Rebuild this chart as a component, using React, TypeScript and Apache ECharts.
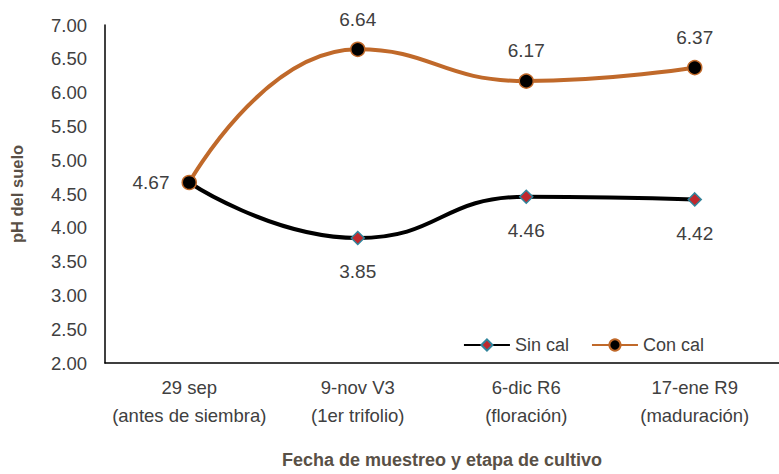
import React, { useEffect, useRef } from "react";
import * as echarts from "echarts";

const categories = [
  "29 sep\n(antes de siembra)",
  "9-nov V3\n(1er trifolio)",
  "6-dic R6\n(floración)",
  "17-ene R9\n(maduración)",
];
const sinCal = [4.67, 3.85, 4.46, 4.42];
const conCal = [4.67, 6.64, 6.17, 6.37];

const FONT = "'Liberation Sans', Arial, sans-serif";
const TEXT = "#404040";

export default function App() {
  const ref = useRef<HTMLDivElement>(null);
  useEffect(() => {
    if (!ref.current) return;
    const chart = echarts.init(ref.current, undefined, { renderer: "svg" });
    chart.setOption({
      animation: false,
      textStyle: { fontFamily: FONT },
      grid: { left: 105, right: -10, top: 25, bottom: 102, containLabel: false },
      legend: {
        right: 70,
        top: 331,
        itemWidth: 46,
        itemHeight: 14,
        itemGap: 22,
        textStyle: { fontFamily: FONT, fontSize: 18, color: TEXT },
        data: ["Sin cal", "Con cal"],
      },
      xAxis: {
        type: "category",
        data: categories,
        boundaryGap: true,
        axisLine: { lineStyle: { color: "#000", width: 1.5 } },
        axisTick: { alignWithLabel: true, length: 6, lineStyle: { color: "#000", width: 1.5 } },
        axisLabel: {
          interval: 0,
          fontFamily: FONT,
          fontSize: 18.5,
          color: TEXT,
          lineHeight: 28,
          margin: 10,
        },
        name: "Fecha de muestreo y etapa de cultivo",
        nameLocation: "middle",
        nameGap: 88,
        nameTextStyle: { fontFamily: FONT, fontSize: 18, fontWeight: "bold", color: "#595046" },
      },
      yAxis: {
        type: "value",
        min: 2,
        max: 7,
        interval: 0.5,
        splitLine: { show: false },
        axisLine: { show: true, lineStyle: { color: "#000", width: 1.5 } },
        axisTick: { show: false },
        axisLabel: {
          fontFamily: FONT,
          fontSize: 18.5,
          color: TEXT,
          margin: 18,
          formatter: (v: number) => v.toFixed(2),
        },
        name: "pH del suelo",
        nameLocation: "middle",
        nameGap: 80,
        nameTextStyle: { fontFamily: FONT, fontSize: 16.5, fontWeight: "bold", color: "#595046" },
      },
      series: [
        {
          name: "Sin cal",
          type: "line",
          smooth: 0.5,
          data: sinCal.map((v, i) => ({ value: v, label: { show: i !== 0 } })),
          symbol: "diamond",
          symbolSize: 13,
          lineStyle: { color: "#000", width: 4 },
          itemStyle: { color: "#c0282d", borderColor: "#31859c", borderWidth: 1.5 },
          label: {
            show: true,
            position: "bottom",
            distance: 17,
            formatter: (p: any) => p.value.toFixed(2),
            fontFamily: FONT,
            fontSize: 19,
            color: TEXT,
          },
          z: 2,
        },
        {
          name: "Con cal",
          type: "line",
          smooth: 0.5,
          data: conCal.map((v, i) =>
            i === 0
              ? { value: v, label: { position: "left", distance: 12 } }
              : { value: v }
          ),
          symbol: "circle",
          symbolSize: 14,
          lineStyle: { color: "#c0692a", width: 4 },
          itemStyle: { color: "#000", borderColor: "#c0692a", borderWidth: 1.5 },
          label: {
            show: true,
            position: "top",
            distance: 13,
            formatter: (p: any) => p.value.toFixed(2),
            fontFamily: FONT,
            fontSize: 19,
            color: TEXT,
          },
          z: 3,
        },
      ],
    });
    return () => chart.dispose();
  }, []);
  return (
    <div
      ref={ref}
      style={{ position: "absolute", left: 0, top: 0, width: 779, height: 474, background: "#fff" }}
    />
  );
}
